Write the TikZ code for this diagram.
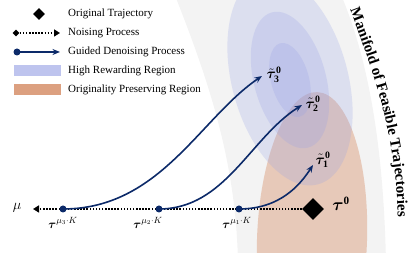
\documentclass[tikz,border=0pt]{standalone}
\usepackage{fontspec}
\setmainfont{Liberation Serif}
\usepackage{amsmath,bm}
\usetikzlibrary{arrows.meta,shapes.geometric,decorations.text}
\definecolor{navy}{RGB}{12,42,105}
\definecolor{bandgray}{RGB}{243,243,243}
\definecolor{blueR}{RGB}{150,160,230}
\definecolor{orangeR}{RGB}{220,160,128}
\definecolor{legblue}{RGB}{190,196,238}
\begin{document}
\begin{tikzpicture}[x=1pt,y=1pt,
  guide/.style={navy, line width=1.6pt, -{Stealth[length=7.5pt,width=6pt]}},
  noise/.style={black, line width=1.6pt, dash pattern=on 1.5pt off 1.6pt},
  dotn/.style={circle, fill=navy, inner sep=0pt, minimum size=7pt},
  diam/.style={diamond, fill=black, inner sep=0pt, minimum width=22pt, minimum height=22pt},
  lbl/.style={font=\fontsize{11}{12}\selectfont, anchor=west, inner sep=0pt},
  mlbl/.style={font=\fontsize{12.5}{13}\selectfont, inner sep=0pt},
  tlbl/.style={font=\fontsize{14}{14}\selectfont, inner sep=0pt}]
\useasboundingbox (0,0) rectangle (415,253);
\begin{scope}
\clip (0,0) rectangle (415,253);
% manifold band
\fill[bandgray] (172,265) .. controls (210,170) and (236,90) .. (238,-10)
  -- (386,-10) .. controls (384,90) and (372,190) .. (338,265) -- cycle;
% originality region
\fill[orangeR, fill opacity=.5, rotate around={-2:(312,13)}] (312,13) ellipse [x radius=55, y radius=148];
% high reward region
\fill[blueR, fill opacity=.24, rotate around={15:(290,173)}] (290,173) ellipse [x radius=58, y radius=108];
\fill[blueR, fill opacity=.24, rotate around={15:(290,173)}] (290,173) ellipse [x radius=36, y radius=70];
\fill[blueR, fill opacity=.24, rotate around={15:(290,173)}] (290,173) ellipse [x radius=19, y radius=38];
\end{scope}
% manifold label
\path[decorate, decoration={text along path, text align=left,
  text={|\fontsize{15}{15}\selectfont\bfseries|Manifold of Feasible Trajectories}}]
  (350,243) .. controls (378,170) and (397,110) .. (398,30);
% main axis
\node[diam] (d0) at (313,44) {};
\coordinate (muend) at (33,44);
\node[mlbl, font=\fontsize{14}{14}\selectfont] (mu) at (17,45) {$\mu$};
\draw[noise, -{Triangle[length=6pt,width=7pt]}] (d0.west) -- (muend);
\node[dotn] (m1) at (239,44) {};
\node[dotn] (m2) at (159,44) {};
\node[dotn] (m3) at (63,44) {};
\node[font=\fontsize{16}{16}\selectfont, inner sep=0pt] (t0) at (341,49) {$\bm{\tau}^{\mathbf{0}}$};
\node[mlbl] (lm3) at (63,30) {$\bm{\tau}^{\mu_3\cdot K}$};
\node[mlbl] (lm2) at (148,30) {$\bm{\tau}^{\mu_2\cdot K}$};
\node[mlbl] (lm1) at (237,30) {$\bm{\tau}^{\mu_1\cdot K}$};
% targets
\coordinate (e3) at (262,177);
\coordinate (e2) at (302,148);
\coordinate (e1) at (313,88);
\node[tlbl] (l3) at (274,178) {$\tilde{\bm{\tau}}^{\mathbf{0}}_{\mathbf{3}}$};
\node[tlbl] (l2) at (313,149) {$\tilde{\bm{\tau}}^{\mathbf{0}}_{\mathbf{2}}$};
\node[tlbl] (l1) at (323,93) {$\tilde{\bm{\tau}}^{\mathbf{0}}_{\mathbf{1}}$};
\draw[guide] (m3.center) .. controls (160,44) and (200,135) .. (e3);
\draw[guide] (m2.center) .. controls (225,44) and (250,115) .. (e2);
\draw[guide] (m1.center) .. controls (280,44) and (300,68) .. (e1);
% legend
\node[diam, minimum width=12pt, minimum height=12pt] (lg1) at (39,239) {};
\node[lbl] (tx1) at (68,239) {Original Trajectory};
\node[diam, minimum width=7pt, minimum height=7pt] (lg2a) at (16,220) {};
\coordinate (lg2b) at (60,220);
\draw[noise, -{Triangle[length=6pt,width=7pt]}] (lg2a) -- (lg2b);
\node[lbl] (tx2) at (68,220) {Noising Process};
\node[dotn] (lg3a) at (17,201) {};
\coordinate (lg3b) at (60,201);
\draw[guide] (lg3a.center) -- (lg3b);
\node[lbl] (tx3) at (68,201) {Guided Denoising Process};
\node[fill=legblue, minimum width=47pt, minimum height=11pt, inner sep=0pt] (lg4) at (37,182) {};
\node[lbl] (tx4) at (68,182) {High Rewarding Region};
\node[fill=orangeR, minimum width=47pt, minimum height=11pt, inner sep=0pt] (lg5) at (37,163) {};
\node[lbl] (tx5) at (68,163) {Originality Preserving Region};
\end{tikzpicture}
\end{document}
